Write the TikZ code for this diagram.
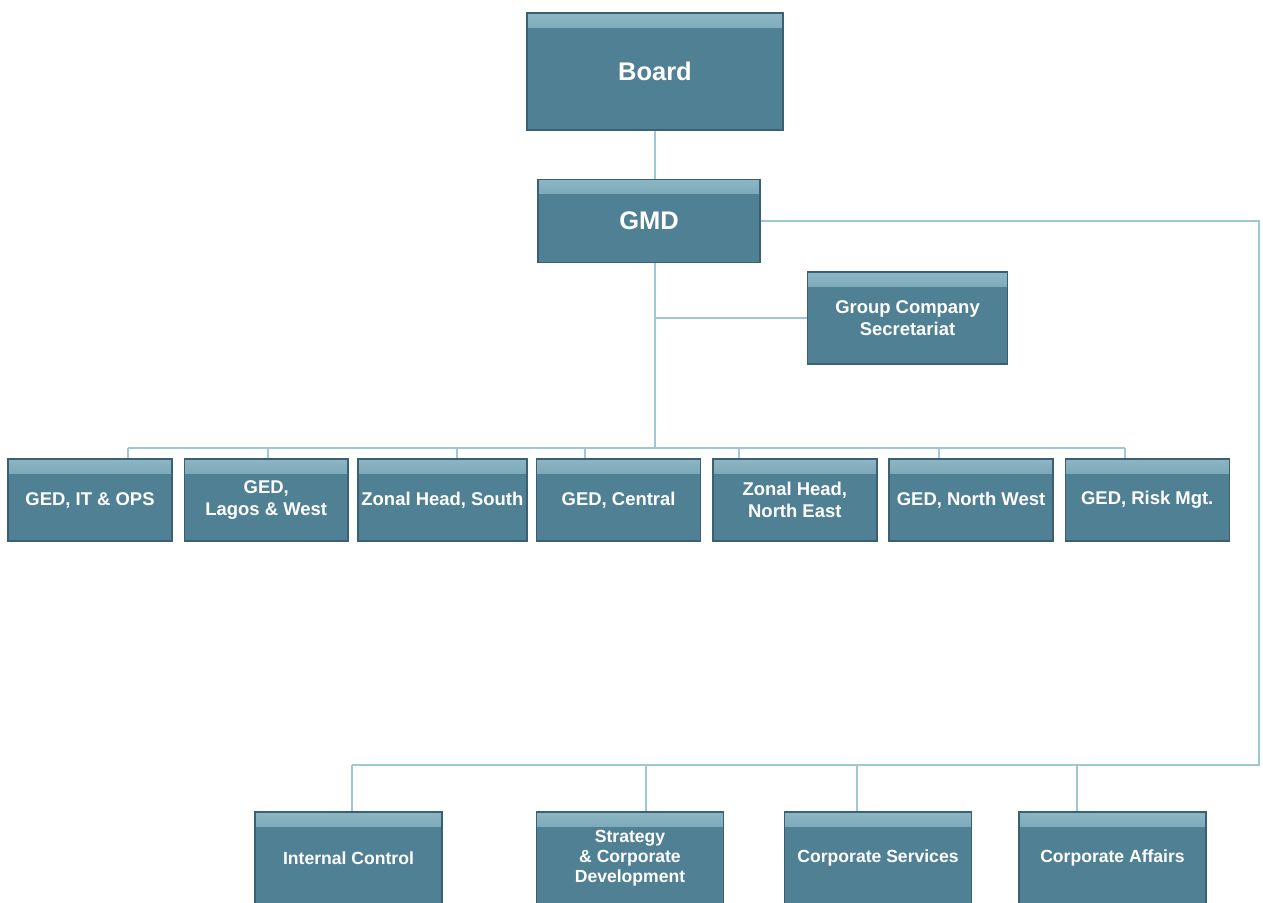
\documentclass[tikz,border=0pt]{standalone}
\usepackage{fontspec}
\setmainfont{Liberation Sans}
\usetikzlibrary{positioning}
\definecolor{boxblue}{RGB}{80,128,148}
\definecolor{boxtop}{RGB}{140,182,197}
\definecolor{boxedge}{RGB}{58,96,113}
\definecolor{linkblue}{RGB}{160,200,212}

\begin{document}
\begin{tikzpicture}[
    x=0.02cm, y=-0.02cm,
    orgbox/.style={rectangle, fill=boxblue, draw=boxedge, line width=0.8pt, text=white,
        font=\bfseries, align=center, inner sep=2pt,
        path picture={\shade[top color=boxtop, bottom color=boxblue, middle color=boxblue!70!boxtop]
            (path picture bounding box.north west) rectangle ([yshift=-8pt]path picture bounding box.north east);}},
    topbox/.style={orgbox, font=\fontsize{14.5}{17}\selectfont\bfseries},
    rowbox/.style={orgbox, minimum width=3.28cm, minimum height=1.64cm, font=\fontsize{10.5}{12.5}\selectfont\bfseries},
    lowbox/.style={orgbox, minimum width=3.74cm, minimum height=1.84cm, font=\fontsize{10}{11.4}\selectfont\bfseries},
    link/.style={draw=linkblue, line width=1.2pt}
]
    \useasboundingbox (0,0) rectangle (1263,902);

    % top of the chart
    \node[topbox, minimum width=5.12cm, minimum height=2.34cm] (board) at (655,71.5) {Board};
    \node[topbox, minimum width=4.44cm, minimum height=1.66cm] (gmd) at (649,221) {GMD};
    \node[rowbox, minimum width=4.0cm, minimum height=1.84cm] (sec) at (907.5,318) {Group Company\\Secretariat};

    % executive row, evenly spaced
    \foreach \i/\x/\txt in {1/90/{GED, IT \& OPS}, 2/266.2/{GED,\\Lagos \& West},
        3/442.4/{Zonal Head, South}, 4/618.6/{GED, Central}, 5/794.8/{Zonal Head,\\North East},
        6/971/{GED, North West}, 7/1147.2/{GED, Risk Mgt.}}
        \node[rowbox] (r\i) at (\x,500) {\txt};

    % bottom row
    \node[lowbox] (ic) at (348.5,858) {Internal Control};
    \node[lowbox] (scd) at (630,858) {Strategy\\\& Corporate\\Development};
    \node[lowbox] (cs) at (878,858) {Corporate Services};
    \node[lowbox] (ca) at (1112.5,858) {Corporate Affairs};

    % drop points on the two buses
    \foreach \i/\x in {1/128, 2/268, 3/457, 4/585, 5/739, 6/939, 7/1125}
        \coordinate (d\i) at (\x,448);
    \coordinate (corner) at (1259,765);
    \coordinate (e1) at (352,765);
    \coordinate (e2) at (646,765);
    \coordinate (e3) at (857,765);
    \coordinate (e4) at (1077,765);

    % connectors
    \draw[link] (board.south) -- (board.south |- gmd.north);
    \draw[link] (board.south |- gmd.south) -- (board.south |- d1);
    \draw[link] (sec.west -| board.south) -- (sec.west);
    \draw[link] (d1) -- (d7);
    \foreach \i in {1,...,7}
        \draw[link] (d\i) -- (d\i |- r\i.north);
    \draw[link] (gmd.east) -| (corner) -- (e1);
    \draw[link] (e1) -- (e1 |- ic.north);
    \draw[link] (e2) -- (e2 |- scd.north);
    \draw[link] (e3) -- (e3 |- cs.north);
    \draw[link] (e4) -- (e4 |- ca.north);

\end{tikzpicture}
\end{document}
